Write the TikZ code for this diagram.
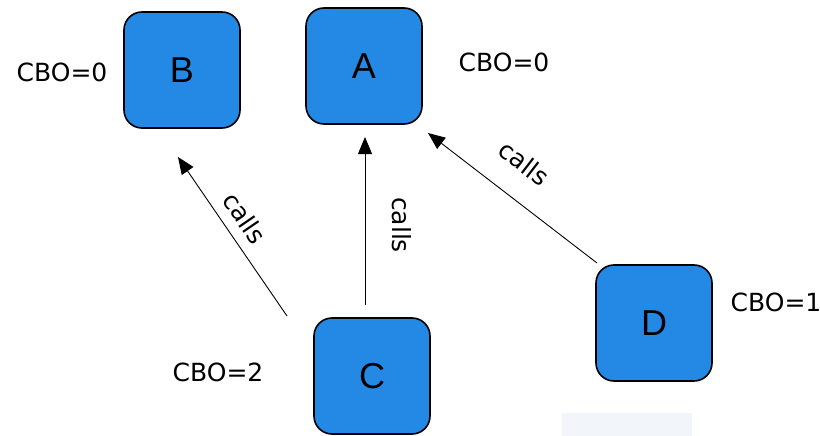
\documentclass[tikz,border=0pt]{standalone}
\usepackage{fontspec}
\setmainfont{Liberation Sans}
\newfontfamily\labelfont{DejaVu Sans}
\usetikzlibrary{arrows.meta}
\definecolor{boxblue}{RGB}{35,137,229}
\definecolor{ghost}{RGB}{242,246,250}
\tikzset{
  classbox/.style={draw=black, line width=1.6pt, fill=boxblue, rounded corners=18pt,
    minimum width=116pt, minimum height=116pt, inner sep=0pt, font=\fontsize{36}{38}\selectfont},
  cbo/.style={font=\labelfont\fontsize{25}{27}\selectfont, inner sep=0pt},
  callarrow/.style={line width=0.9pt, -{Triangle[length=17pt,width=14pt]}},
  calllabel/.style={font=\labelfont\fontsize{25}{27}\selectfont, inner sep=0pt}
}
\begin{document}
\begin{tikzpicture}[x=1pt,y=-1pt]
\useasboundingbox (0,0) rectangle (820,436);
\fill[ghost] (562,413) rectangle (692,436);
\node[classbox] (B) at (182,70) {B};
\node[classbox] (A) at (364,66) {A};
\node[classbox] (C) at (372,376) {C};
\node[classbox] (D) at (654,323) {D};
\node[cbo] (lB) at (62,72) {CBO=0};
\node[cbo] (lA) at (504,62) {CBO=0};
\node[cbo] (lC) at (218,372) {CBO=2};
\node[cbo] (lD) at (776,302) {CBO=1};
\coordinate (sB) at (287,316);
\coordinate (tB) at (178,157);
\coordinate (sC) at (365,305);
\coordinate (tC) at (365,137);
\coordinate (sD) at (597,263);
\coordinate (tD) at (428,133);
\draw[callarrow] (sB) -- (tB);
\draw[callarrow] (sC) -- (tC);
\draw[callarrow] (sD) -- (tD);
\node[calllabel, rotate=-55.6] (cB) at (245,218) {calls};
\node[calllabel, rotate=-90] (cC) at (402,225) {calls};
\node[calllabel, rotate=-37.6] (cD) at (524,163) {calls};
\end{tikzpicture}
\end{document}
